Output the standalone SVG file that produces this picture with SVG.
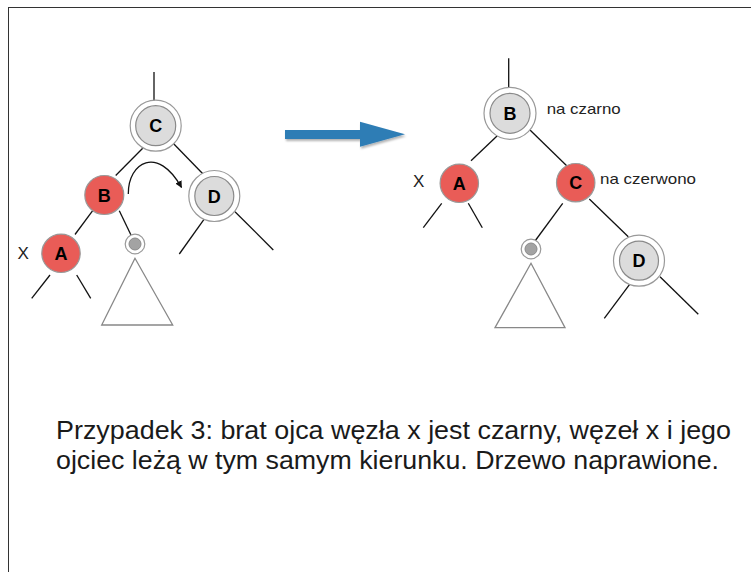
<svg xmlns="http://www.w3.org/2000/svg" width="751" height="572" viewBox="0 0 751 572">
<defs>
<style>
.edge{stroke:#111;stroke-width:1.3;fill:none}
.ring{fill:#fff;stroke:#999;stroke-width:1.2}
.blk{fill:#dcdcdc;stroke:#8a8a8a;stroke-width:1.2}
.red{fill:#e95c57;stroke:#999;stroke-width:1.2}
.nil{fill:#a3a3a3;stroke:#8a8a8a;stroke-width:1}
.tri{fill:#fff;stroke:#888;stroke-width:1.3}
.lbl{font-family:"Liberation Sans",Arial,sans-serif;font-weight:bold;font-size:18px;fill:#000;text-anchor:middle}
.x{font-family:"Liberation Sans",Arial,sans-serif;font-size:17px;fill:#222}
.note{font-family:"Liberation Sans",Arial,sans-serif;font-size:15px;fill:#222}
.cap{font-family:"Liberation Sans",Arial,sans-serif;font-size:25px;fill:#1a1a1a}
</style>
<marker id="ah" viewBox="0 0 10 10" refX="9" refY="5" markerWidth="7" markerHeight="7" orient="auto" markerUnits="userSpaceOnUse">
<path d="M0,0 L10,5 L0,10 z" fill="#111"/>
</marker>
<filter id="sh" x="-10%" y="-30%" width="130%" height="180%">
<feDropShadow dx="1" dy="2" stdDeviation="1.2" flood-color="#000" flood-opacity="0.3"/>
</filter>
</defs>
<rect x="8.5" y="7.5" width="800" height="620" fill="#fff" stroke="#333" stroke-width="1"/>

<g id="connectors">
<line class="edge" x1="154" y1="72" x2="154" y2="101"/>
<line class="edge" x1="142.7" y1="148.3" x2="115.7" y2="175.5"/>
<line class="edge" x1="171.7" y1="141.7" x2="204" y2="175"/>
<line class="edge" x1="92.7" y1="210.7" x2="75" y2="234.5"/>
<line class="edge" x1="119.3" y1="210.7" x2="131.7" y2="236.5"/>
<line class="edge" x1="50" y1="275" x2="31.7" y2="298.3"/>
<line class="edge" x1="76.7" y1="275" x2="90.7" y2="298.3"/>
<line class="edge" x1="204" y1="219.3" x2="179.3" y2="254"/>
<line class="edge" x1="235" y1="211.7" x2="273.3" y2="250"/>
<path class="edge" d="M128.3,194 C128,162 158,145 181.5,187.5" marker-end="url(#ah)"/>

<line class="edge" x1="508.7" y1="58.3" x2="508.7" y2="93.5"/>
<line class="edge" x1="497.3" y1="135.7" x2="471" y2="160.7"/>
<line class="edge" x1="530" y1="130" x2="566.7" y2="165.7"/>
<line class="edge" x1="441.7" y1="203.3" x2="423.3" y2="227.7"/>
<line class="edge" x1="468.3" y1="203.3" x2="482.3" y2="227.7"/>
<line class="edge" x1="562.7" y1="203.3" x2="535" y2="241"/>
<line class="edge" x1="589.3" y1="199" x2="628.3" y2="236.7"/>
<line class="edge" x1="631.7" y1="281.7" x2="604.3" y2="318.3"/>
<line class="edge" x1="660" y1="276.7" x2="698.3" y2="314.3"/>
</g>

<g id="transform-arrow">
<polygon points="285,130 360,130 360,121.7 405,134.3 360,146.7 360,139 285,139" fill="#2f7db5" filter="url(#sh)"/>
</g>

<g id="left-C"><circle class="ring" cx="155.7" cy="125.7" r="25.5"/><circle class="blk" cx="155.7" cy="125.7" r="20"/><text class="lbl" x="155.7" y="132.2">C</text></g>
<g id="left-B"><circle class="red" cx="104.3" cy="195" r="19.5"/><text class="lbl" x="104.3" y="201.5">B</text></g>
<g id="left-A"><circle class="red" cx="61" cy="253.3" r="19.2"/><text class="lbl" x="61" y="259.8">A</text></g>
<g id="left-x"><text class="x" x="17.5" y="259">X</text></g>
<g id="left-D"><circle class="ring" cx="214.3" cy="196" r="25.5"/><circle class="blk" cx="214.3" cy="196" r="19.5"/><text class="lbl" x="214.3" y="202.5">D</text></g>
<g id="left-nil"><circle class="ring" cx="135" cy="244" r="9.8"/><circle class="nil" cx="135" cy="244" r="6"/></g>
<g id="left-subtree"><polygon class="tri" points="135,258.3 101.7,325 172.7,325"/></g>

<g id="right-B"><circle class="ring" cx="510" cy="113.3" r="26"/><circle class="blk" cx="510" cy="113.3" r="20"/><text class="lbl" x="510" y="119.8">B</text></g>
<g id="right-B-note"><text class="note" x="546.7" y="114" textLength="74" lengthAdjust="spacingAndGlyphs">na czarno</text></g>
<g id="right-A"><circle class="red" cx="459.3" cy="183.3" r="19.2"/><text class="lbl" x="459.3" y="189.8">A</text></g>
<g id="right-x"><text class="x" x="413" y="187">X</text></g>
<g id="right-C"><circle class="red" cx="575.7" cy="182.7" r="19.2"/><text class="lbl" x="575.7" y="189.2">C</text></g>
<g id="right-C-note"><text class="note" x="600" y="184" textLength="96" lengthAdjust="spacingAndGlyphs">na czerwono</text></g>
<g id="right-nil"><circle class="ring" cx="531" cy="249" r="9.8"/><circle class="nil" cx="531" cy="249" r="6"/></g>
<g id="right-subtree"><polygon class="tri" points="531,263.3 495,327.7 565,327.7"/></g>
<g id="right-D"><circle class="ring" cx="639" cy="260.7" r="25.5"/><circle class="blk" cx="639" cy="260.7" r="19.5"/><text class="lbl" x="639" y="267.2">D</text></g>

<g id="caption">
<text class="cap" x="56" y="438.5" textLength="675" lengthAdjust="spacingAndGlyphs">Przypadek 3: brat ojca węzła x jest czarny, węzeł x i jego</text>
<text class="cap" x="56" y="468.5" textLength="663" lengthAdjust="spacingAndGlyphs">ojciec leżą w tym samym kierunku. Drzewo naprawione.</text>
</g>
</svg>
